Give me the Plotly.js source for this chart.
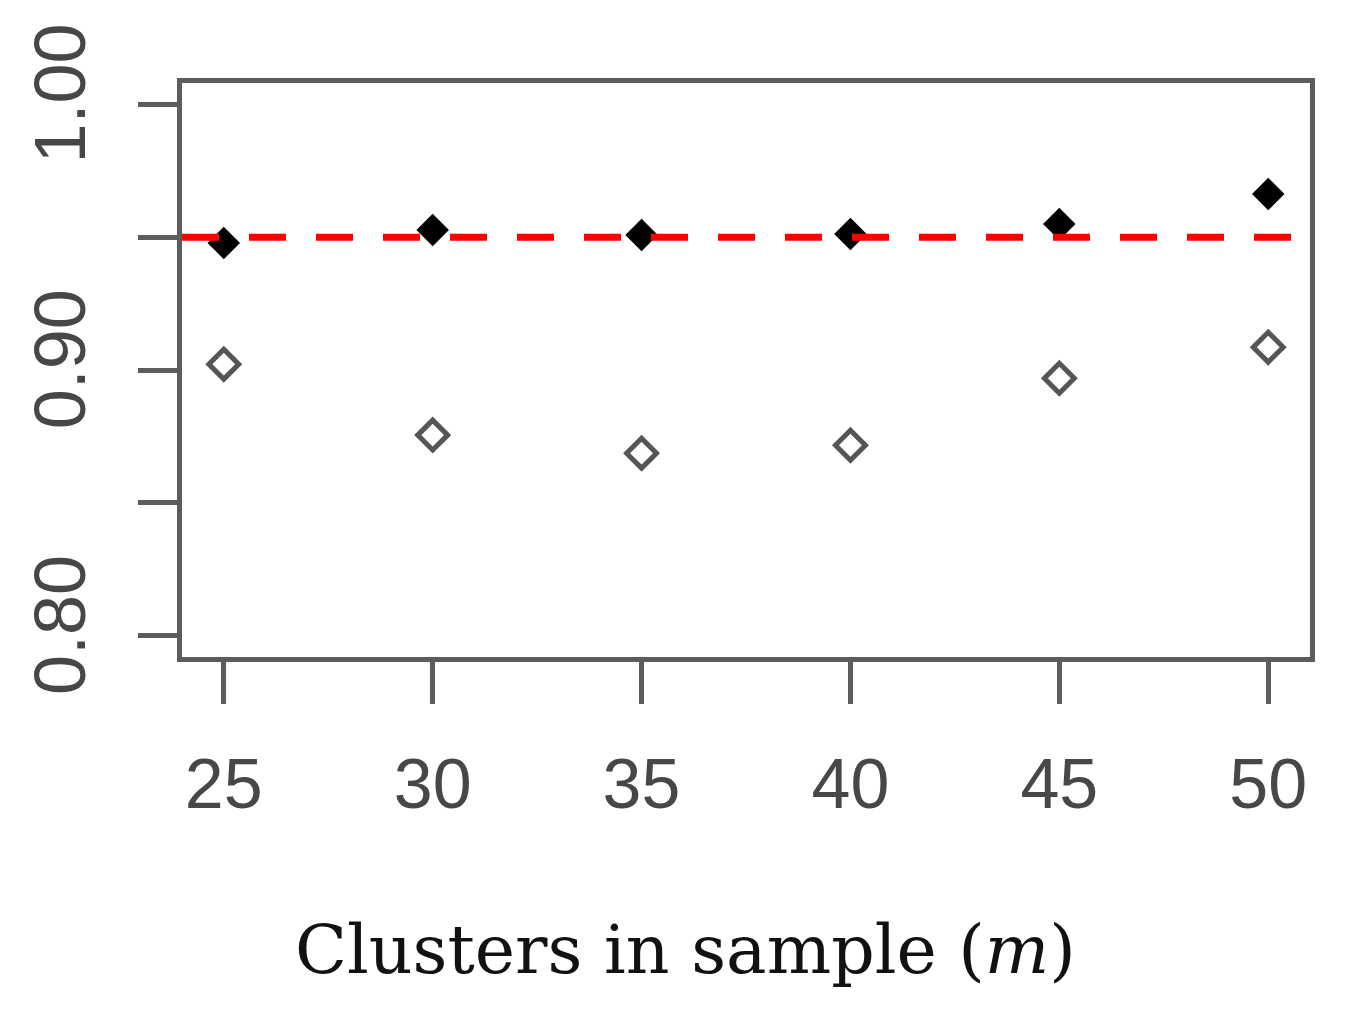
<!DOCTYPE html>
<html>
<head>
<meta charset="utf-8">
<script src="https://cdn.plot.ly/plotly-3.0.1.min.js"></script>
<style>
html,body{margin:0;padding:0;background:#fff;}
#chart{width:1347px;height:1036px;}
</style>
</head>
<body>
<div id="chart"></div>
<script>
// Data
const clusters = [25, 30, 35, 40, 45, 50];
const coverageFilled = [0.9478, 0.9527, 0.9508, 0.9512, 0.9549, 0.9662];
const coverageOpen = [0.9022, 0.8755, 0.8687, 0.8717, 0.8969, 0.9086];
const nominalLevel = 0.95;
const xTicks = [25, 30, 35, 40, 45, 50];
const yTicks = [0.80, 0.85, 0.90, 0.95, 1.00];
const yTickLabels = ['0.80', '', '0.90', '', '1.00'];
const xTitle = 'Clusters in sample (<i>m</i>)';

const frameColor = '#5c5c5c';

const traces = [
  {
    x: clusters, y: coverageOpen, type: 'scatter', mode: 'markers',
    marker: {symbol: 'diamond-open', size: 23, color: '#555555', line: {width: 5, color: '#555555'}},
    hoverinfo: 'x+y'
  },
  {
    x: clusters, y: coverageFilled, type: 'scatter', mode: 'markers',
    marker: {symbol: 'diamond', size: 25, color: '#000000', line: {width: 0}},
    hoverinfo: 'x+y'
  }
];

const layout = {
  width: 1347, height: 1036,
  margin: {l: 182, r: 37, t: 83, b: 379},
  paper_bgcolor: '#ffffff', plot_bgcolor: '#ffffff',
  showlegend: false,
  font: {family: 'Liberation Sans, Arial, sans-serif', color: '#4d4d4d'},
  xaxis: {
    range: [24, 51],
    tickvals: xTicks, ticktext: xTicks.map(String),
    ticks: 'outside', ticklen: 42, tickwidth: 5, tickcolor: frameColor,
    showline: true, linecolor: frameColor, linewidth: 5, mirror: true,
    showgrid: false, zeroline: false,
    tickfont: {size: 70, color: '#474747'},
    ticklabelstandoff: 20
  },
  yaxis: {
    range: [0.792, 1.008],
    tickvals: yTicks, ticktext: yTickLabels,
    tickangle: -90,
    ticks: 'outside', ticklen: 39, tickwidth: 5, tickcolor: frameColor,
    showline: true, linecolor: frameColor, linewidth: 5, mirror: true,
    showgrid: false, zeroline: false,
    tickfont: {size: 72, color: '#474747'},
    ticklabelstandoff: 24
  },
  shapes: [{
    type: 'line', xref: 'paper', yref: 'y',
    x0: 0, x1: 1, y0: nominalLevel, y1: nominalLevel,
    line: {color: '#ff0000', width: 7, dash: '37px,30px'},
    layer: 'above'
  }],
  annotations: [{
    xref: 'paper', yref: 'paper',
    x: 0.4465, y: -0.51, xanchor: 'center', yanchor: 'middle',
    text: xTitle, showarrow: false,
    font: {family: 'DejaVu Serif, serif', size: 68, color: '#111111'}
  }]
};

Plotly.newPlot('chart', traces, layout, {displayModeBar: false, staticPlot: true});
</script>
</body>
</html>
